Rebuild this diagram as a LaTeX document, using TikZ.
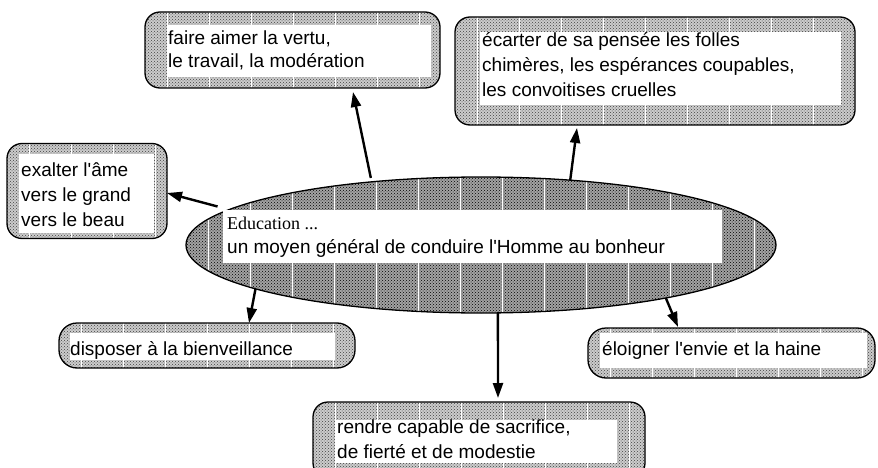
\documentclass[tikz,border=0pt]{standalone}
\usepackage{fontspec}
\newfontfamily\arialf{Liberation Sans}
\newfontfamily\serifed{Liberation Serif}
\usetikzlibrary{shapes.geometric,arrows.meta,patterns}
\newcommand\mylines[1]{\begin{tabular}[t]{@{}l@{}}#1\end{tabular}}
\begin{document}
\begin{tikzpicture}[x=1pt,y=-1pt,
  wlines/.style={path picture={\foreach \i in {0,...,20}{\draw[white,line width=0.8pt]
      ([xshift=\i*42pt+22pt]path picture bounding box.south west) --
      ([xshift=\i*42pt+22pt]path picture bounding box.north west);}}},
  bubble/.style={draw=black,line width=1.3pt,rounded corners=15pt,inner sep=0pt,outer sep=0pt,
    preaction={fill=gray!40},pattern=crosshatch dots,pattern color=gray!50!black,wlines},
  blob/.style={ellipse,draw=black,line width=1.3pt,inner sep=0pt,outer sep=0pt,
    preaction={fill=gray!72},pattern=crosshatch dots,pattern color=black,wlines},
  panel/.style={fill=white,inner sep=0pt,outer sep=0pt},
  txt/.style={font=\arialf\fontsize{19}{25}\selectfont,anchor=base west,inner sep=0pt},
  arr/.style={line width=2.4pt,-{Triangle[length=15pt,width=10pt]}}]
\useasboundingbox (0,0) rectangle (878,468);
\fill[white] (0,0) rectangle (878,468);

% central ellipse
\node[blob,minimum width=590pt,minimum height=136pt] (e) at (481,245) {};
\node[panel,minimum width=499pt,minimum height=53pt] (ew) at (472.5,236.5) {};
\node[txt,font=\serifed\fontsize{18}{24}\selectfont] (e1) at (227,229) {Education ...};
\node[txt] (e2) at (227,253) {un moyen général de conduire l'Homme au bonheur};

% box 1
\node[bubble,minimum width=295pt,minimum height=76pt] (b1) at (292.5,50) {};
\node[panel,minimum width=263pt,minimum height=52pt] (w1) at (299.5,51) {};
\node[txt,font=\arialf\fontsize{19}{23}\selectfont] (t1) at (168,45) {\mylines{faire aimer la vertu,\\le travail, la modération}};

% box 2
\node[bubble,minimum width=400pt,minimum height=108pt] (b2) at (655,71) {};
\node[panel,minimum width=361pt,minimum height=73pt] (w2) at (660.5,68.5) {};
\node[txt] (t2) at (482,47) {\mylines{écarter de sa pensée les folles\\chimères, les espérances coupables,\\les convoitises cruelles}};

% box 3
\node[bubble,minimum width=160pt,minimum height=95pt] (b3) at (87,191) {};
\node[panel,minimum width=135pt,minimum height=79pt] (w3) at (86.5,193.5) {};
\node[txt] (t3) at (21,176) {\mylines{exalter l'âme\\vers le grand\\vers le beau}};

% box 4
\node[bubble,rounded corners=18pt,minimum width=296pt,minimum height=45pt] (b4) at (207,345.5) {};
\node[panel,minimum width=265pt,minimum height=27pt] (w4) at (202.5,346.5) {};
\node[txt] (t4) at (70,355) {disposer à la bienveillance};

% box 5
\node[bubble,rounded corners=18pt,minimum width=287pt,minimum height=50pt] (b5) at (731.5,353) {};
\node[panel,minimum width=267pt,minimum height=35pt] (w5) at (733.5,350.5) {};
\node[txt] (t5) at (602,355) {éloigner l'envie et la haine};

% box 6
\node[bubble,minimum width=332pt,minimum height=76pt] (b6) at (479,440) {};
\node[panel,minimum width=282pt,minimum height=43pt] (w6) at (476,441.5) {};
\node[txt] (t6) at (337,433) {\mylines{rendre capable de sacrifice,\\de fierté et de modestie}};

% connectors
\draw[arr,shorten <=4pt] (e.150) -- ([xshift=60.5pt,yshift=-4pt]b1.south);
\draw[arr] (e.36) -- ([xshift=-78pt,yshift=-3pt]b2.south);
\draw[arr,shorten <=12pt] (e.172) -- ([yshift=-2pt]b3.east);
\draw[arr] (e.191) -- ([xshift=42pt]b4.north);
\draw[arr] (e.-76) -- ([xshift=19pt,yshift=4pt]b6.north);
\draw[arr] (e.-16) -- ([xshift=-53.5pt,yshift=1pt]b5.north);
\end{tikzpicture}
\end{document}
